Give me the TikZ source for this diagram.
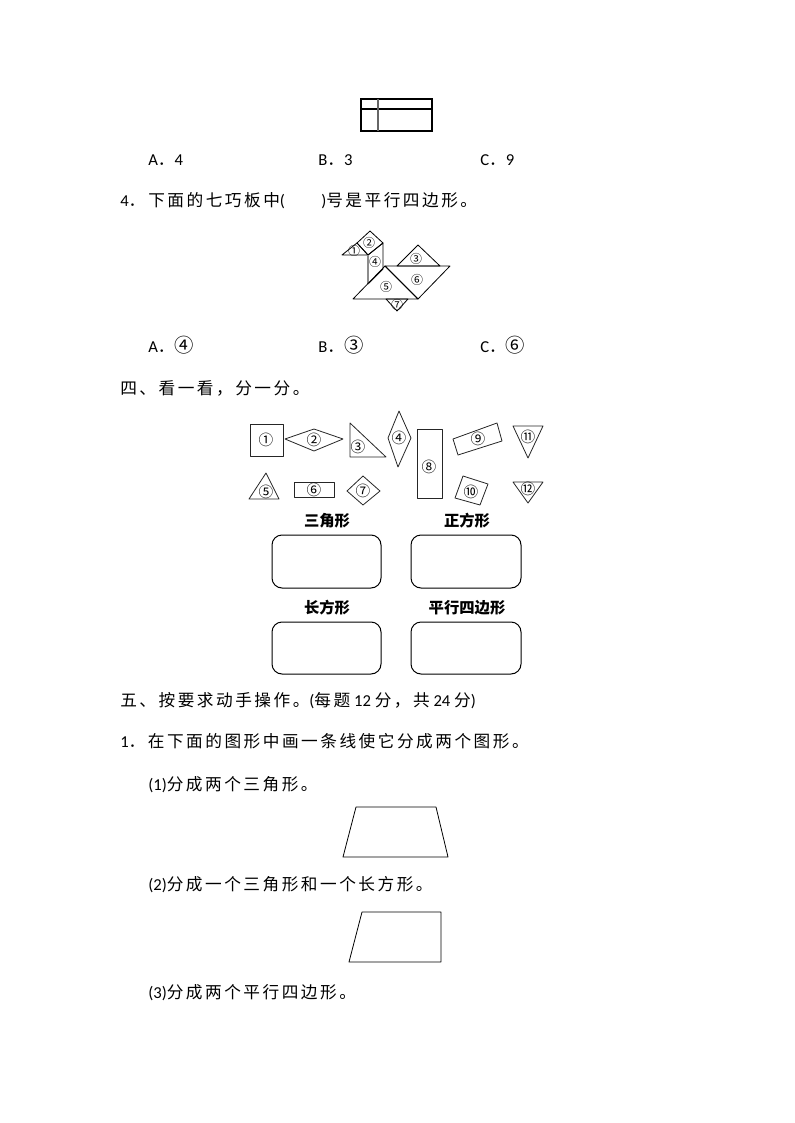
\documentclass[tikz,border=0pt]{standalone}
\usepackage{fontspec}
\setmainfont{Carlito}
\newfontfamily\cj{Noto Sans CJK SC}[LetterSpace=15]
\newfontfamily\cjn{Noto Sans CJK SC}
\newfontfamily\latf{Carlito}
\begin{document}
\begin{tikzpicture}[x=0.75pt,y=-0.75pt,
  txt/.style={inner sep=0pt,anchor=west,font=\fontsize{12.5}{14}\cj},
  lab/.style={inner sep=0pt,font=\fontsize{11.5}{13}\cjn\bfseries},
  num/.style={inner sep=0pt,font=\fontsize{11}{12}\cjn},
  tnum/.style={inner sep=0pt,font=\fontsize{9}{10}\cjn},
  shp/.style={draw=black!85,line width=0.6pt,line join=round},
  tan/.style={draw=black,line width=0.6pt,line join=round},
  ansbox/.style={draw=black,line width=0.75pt,rounded corners=7.5pt}]
\path[fill=white] (0,0) rectangle (794,1123);
\useasboundingbox (0,0) rectangle (794,1123);

% top figure
\draw[black,line width=0.9pt] (361,99) rectangle (432,131);
\draw[black,line width=0.9pt] (361,109) -- (432,109);
\draw[black!60,line width=1.4pt] (378,99) -- (378,131);

% choices q3
\node[txt] (a3) at (148,160) {{\latf A}．{\latf 4}};
\node[txt] (b3) at (318,160) {{\latf B}．{\latf 3}};
\node[txt] (c3) at (480,160) {{\latf C}．{\latf 9}};

% q4
\node[txt] (q4a) at (120,201) {{\latf 4}．};
\node[txt] (q4b) at (148,201) {下面的七巧板中{\latf (}};
\node[txt] (q4c) at (321,201) {{\latf )}号是平行四边形。};

% tangram
\draw[tan] (342,255) -- (357,243) -- (368,255) -- cycle;
\draw[tan] (357,243) -- (370,231) -- (383,243) -- (368,255) -- cycle;
\draw[tan] (368,255) -- (383,243) -- (383,269) -- (368,284);
\draw[black!45,line width=0.9pt] (368,255) -- (368,284);
\draw[tan] (353,299) -- (385,266) -- (418,299) -- cycle;
\draw[tan] (385,266) -- (450,266) -- (418,299) -- cycle;
\draw[tan] (397,266) -- (418,245) -- (440,266) -- cycle;
\draw[tan] (386,299) -- (408,299) -- (397,311) -- cycle;
\node[tnum] (g1) at (354,251) {①};
\node[tnum] (g2) at (369,243) {②};
\node[tnum] (g4) at (375,262) {④};
\node[tnum] (g3) at (416,259) {③};
\node[tnum] (g6) at (417,280) {⑥};
\node[tnum] (g5) at (386,287) {⑤};
\node[tnum] (g7) at (397,305) {⑦};

% choices q4
\node[txt] (a4) at (148,345) {{\latf A}．{\fontsize{14.5}{15}\cjn ④}};
\node[txt] (b4) at (318,345) {{\latf B}．{\fontsize{14.5}{15}\cjn ③}};
\node[txt] (c4) at (480,345) {{\latf C}．{\fontsize{14.5}{15}\cjn ⑥}};

% section 4
\node[txt] (s4) at (120,388) {四、看一看，分一分。};

% shapes
\draw[shp] (250,424) rectangle (283,456);
\draw[shp] (285,439) -- (314,429) -- (343,439) -- (314,451) -- cycle;
\draw[shp] (350,423) -- (350,457) -- (386,457) -- cycle;
\draw[shp] (399,411) -- (411,438) -- (398,467) -- (388,438) -- cycle;
\draw[shp] (266,473) -- (279,499) -- (249,499) -- cycle;
\draw[shp] (294,482) rectangle (334,497);
\draw[shp] (347,491) -- (363,476) -- (380,491) -- (363,505) -- cycle;
\draw[shp] (417,429) rectangle (442,498);
\draw[shp] (453,439) -- (497,423) -- (502,441) -- (458,455) -- cycle;
\draw[shp] (463,476) -- (488,484) -- (480,505) -- (455,498) -- cycle;
\draw[shp] (513,426) -- (543,426) -- (528,458) -- cycle;
\draw[shp] (513,482) -- (543,482) -- (528,503) -- cycle;
\node[num] (n1) at (266,440) {①};
\node[num] (n2) at (314,440) {②};
\node[num] (n3) at (358,447) {③};
\node[num] (n4) at (399,438) {④};
\node[num] (n5) at (266,492) {⑤};
\node[num] (n6) at (314,490) {⑥};
\node[num] (n7) at (363,491) {⑦};
\node[num] (n8) at (429,467) {⑧};
\node[num] (n9) at (478,439) {⑨};
\node[num] (n10) at (471,492) {⑩};
\node[num] (n11) at (528,437) {⑪};
\node[num] (n12) at (528,489) {⑫};

% answer boxes
\node[lab] (l1) at (327,521) {三角形};
\node[lab] (l2) at (467,521) {正方形};
\node[lab] (l3) at (327,608) {长方形};
\node[lab] (l4) at (467,608) {平行四边形};
\draw[ansbox] (272,535) rectangle (381,588);
\draw[ansbox] (411,535) rectangle (521,588);
\draw[ansbox] (272,622) rectangle (381,674);
\draw[ansbox] (411,622) rectangle (521,674);

% section 5
\node[txt] (s5) at (120,701) {五、按要求动手操作。{\latf (}每题{\latf ~12~}分，共{\latf ~24~}分{\latf )}};
\node[txt] (p1) at (120,741) {{\latf 1}．在下面的图形中画一条线使它分成两个图形。};
\node[txt] (p11) at (148,785) {{\latf (1)}分成两个三角形。};
\draw[shp,draw=black] (356,807) -- (436,807) -- (448,857) -- (343,857) -- cycle;
\node[txt] (p12) at (148,885) {{\latf (2)}分成一个三角形和一个长方形。};
\draw[shp,draw=black] (362,912) -- (441,912) -- (441,962) -- (349,962) -- cycle;
\node[txt] (p13) at (148,993) {{\latf (3)}分成两个平行四边形。};
\end{tikzpicture}
\end{document}
